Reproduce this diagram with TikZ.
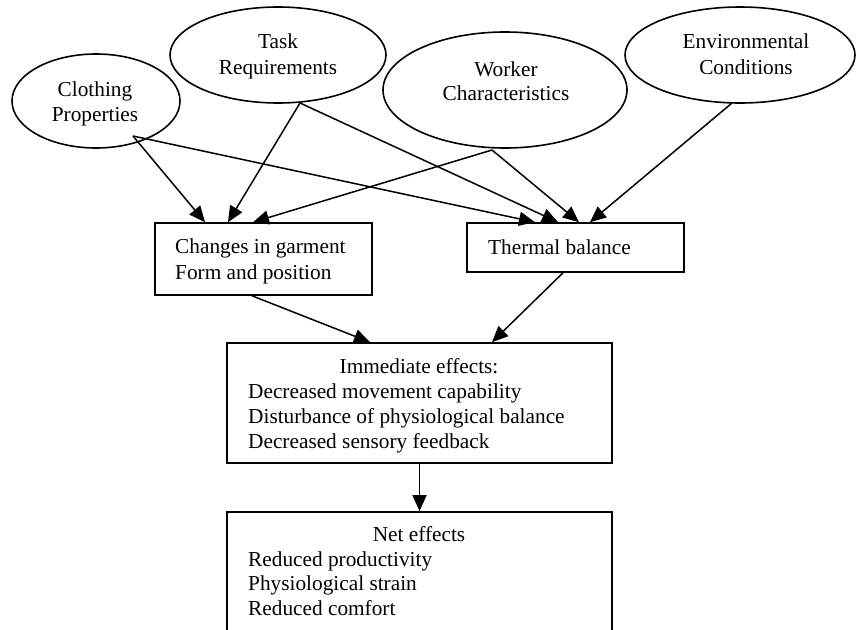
\documentclass[tikz,border=0pt]{standalone}
\usepackage{fontspec}
\setmainfont{Liberation Serif}
\usetikzlibrary{shapes.geometric,arrows.meta,calc}

\tikzset{
  factor/.style={draw, ellipse, line width=1.6pt, inner sep=0pt},
  stagebox/.style={draw, rectangle, line width=1.6pt, inner sep=0pt},
  lbl/.style={inner sep=0pt, font=\fontsize{21.3}{25}\selectfont},
  arr/.style={line width=1.5pt, -{Triangle[length=16pt,width=14pt]}},
}

\begin{document}
\begin{tikzpicture}[x=1pt,y=-1pt]
  \useasboundingbox (0,0) rectangle (856,629);
  \clip (0,0) rectangle (856,629);

  % influencing factors
  \node[factor, minimum width=168pt, minimum height=94pt]  (clo) at (96,101) {};
  \node[factor, minimum width=216pt, minimum height=96pt]  (task) at (278,55) {};
  \node[factor, minimum width=244pt, minimum height=116pt] (wrk) at (505,90) {};
  \node[factor, minimum width=230pt, minimum height=96pt]  (env) at (740,55) {};

  \node[lbl, anchor=base] (clo1) at (95,96.7) {Clothing};
  \node[lbl, anchor=base] (clo2) at (95,121.7) {Properties};
  \node[lbl, anchor=base] (task1) at (278,48.3) {Task};
  \node[lbl, anchor=base] (task2) at (278,74) {Requirements};
  \node[lbl, anchor=base] (wrk1) at (506,76.7) {Worker};
  \node[lbl, anchor=base] (wrk2) at (506,100.7) {Characteristics};
  \node[lbl, anchor=base] (env1) at (746,48.3) {Environmental};
  \node[lbl, anchor=base] (env2) at (746,74) {Conditions};

  % intermediate stages
  \node[stagebox, minimum width=217pt, minimum height=72pt] (chg) at (263.5,259) {};
  \node[stagebox, minimum width=217pt, minimum height=49pt] (thb) at (575.5,247.5) {};
  \node[lbl, anchor=base west] (chg1) at (175,253.3) {Changes in garment};
  \node[lbl, anchor=base west] (chg2) at (175,279) {Form and position};
  \node[lbl, anchor=base west] (thb1) at (488,254) {Thermal balance};

  % effects
  \node[stagebox, minimum width=385pt, minimum height=120pt] (imm) at (419.5,403) {};
  \node[lbl, anchor=base] (imm0) at (419,373) {Immediate effects:};
  \node[lbl, anchor=base west] (imm1) at (248,398) {Decreased movement capability};
  \node[lbl, anchor=base west] (imm2) at (248,423) {Disturbance of physiological balance};
  \node[lbl, anchor=base west] (imm3) at (248,448) {Decreased sensory feedback};

  \node[stagebox, minimum width=385pt, minimum height=160pt] (net) at (419.5,592) {};
  \node[lbl, anchor=base] (net0) at (419,541) {Net effects};
  \node[lbl, anchor=base west] (net1) at (248,566) {Reduced productivity};
  \node[lbl, anchor=base west] (net2) at (248,590.5) {Physiological strain};
  \node[lbl, anchor=base west] (net3) at (248,615) {Reduced comfort};

  % factor -> stage connectors
  \coordinate (cloout) at ($(clo.center)+(37,35)$);
  \draw[arr] (cloout) -- ($(chg.north)+(-58.5,0)$);
  \draw[arr] (cloout) -- ($(thb.north)+(-40.5,0)$);
  \draw[arr] ($(task.center)+(22,48)$)  -- ($(chg.north)+(-35.5,0)$);
  \draw[arr] ($(task.center)+(22,48)$)  -- ($(thb.north)+(-17.5,0)$);
  \draw[arr] ($(wrk.center)+(-13,60)$)  -- ($(chg.north)+(-10.5,0)$);
  \draw[arr] ($(wrk.center)+(-13,60)$)  -- ($(thb.north)+(3.5,0)$);
  \draw[arr] ($(env.center)+(-8,48)$)   -- ($(thb.north)+(14.5,0)$);

  % stage -> effect connectors
  \draw[arr] ($(chg.south)+(-11.5,0)$) -- ($(imm.north)+(-49.5,0)$);
  \draw[arr] ($(thb.south)+(-12.5,0)$) -- ($(imm.north)+(72.5,0)$);
  \draw[arr] (imm.south) -- (net.north);
\end{tikzpicture}
\end{document}
